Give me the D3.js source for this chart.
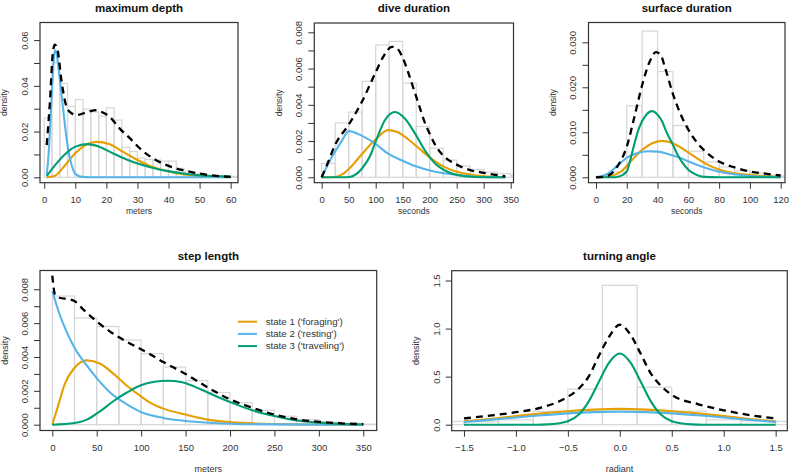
<!DOCTYPE html>
<html>
<head>
<meta charset="utf-8">
<script src="https://cdn.jsdelivr.net/npm/d3@7"></script>
<style>
  body { margin: 0; background: #fff; }
  svg { display: block; font-family: "Liberation Sans", Arial, Helvetica, sans-serif; }
</style>
</head>
<body>
<svg id="chart" width="793" height="476"></svg>
<script>
// state colours and legend text
const stateColors = ["#E69F00", "#56B4E9", "#009E73"];
const legendLabels = ["state 1 ('foraging')", "state 2 ('resting')", "state 3 ('traveling')"];

// ---- maximum depth ----
const depthBreaks = [0, 2.5, 5, 7.5, 10, 12.5, 15, 17.5, 20, 22.5, 25, 27.5, 30, 32.5, 35, 37.5, 40, 42.5, 45, 47.5, 50, 52.5, 55, 57.5, 60, 62.5];
const depthHist = [0.026, 0.050, 0.041, 0.031, 0.034, 0.0298, 0.0286, 0.0267, 0.0304, 0.025, 0.0131, 0.0113, 0.0084, 0.0078, 0.0076, 0.0071, 0.0071, 0.0039, 0.0024, 0.0018, 0.0012, 0.0009, 0.0006, 0.0005, 0.0004];
const depthState1 = [[0.8, 0], [3.5, 0.0007], [6.7, 0.0053], [9.9, 0.0104], [13.1, 0.014], [16.8, 0.0155], [21.1, 0.0145], [25.4, 0.0111], [29.7, 0.0078], [34, 0.005], [39.4, 0.0028], [44.7, 0.0013], [50, 0.0006], [60, 0.0001]];
const depthState2 = [[0.8, 0.001], [1.5, 0.012], [2, 0.025], [2.5, 0.038], [3, 0.050], [3.4, 0.0555], [4, 0.054], [4.5, 0.049], [5, 0.043], [6, 0.031], [7, 0.019], [8, 0.010], [9, 0.0045], [10, 0.0015], [12, 0.0002], [15, 0], [60, 0]];
const depthState3 = [[0.8, 0.0005], [3.5, 0.0053], [6.7, 0.0101], [9.9, 0.0133], [13.7, 0.0145], [17.9, 0.0133], [22.2, 0.0104], [26.5, 0.0078], [30.8, 0.0057], [35.1, 0.0041], [39.4, 0.0028], [44.7, 0.0017], [50, 0.0009], [60, 0.0003]];
const depthTotal = [[0.8, 0.0141], [1.9, 0.0345], [2.7, 0.0534], [3.4, 0.058], [4.2, 0.0563], [5.6, 0.0417], [7.2, 0.0308], [8.8, 0.028], [10.4, 0.0272], [13.6, 0.0284], [16.8, 0.0294], [17.9, 0.0289], [21.1, 0.0264], [24.3, 0.0213], [27.6, 0.017], [30.8, 0.0126], [35.1, 0.0082], [39.4, 0.0053], [44.7, 0.0031], [50.1, 0.0016], [55.4, 0.0006], [60, 0.0002]];
const depthXTicks = [0, 10, 20, 30, 40, 50, 60];
const depthYTicks = [0, 0.01, 0.02, 0.03, 0.04, 0.05, 0.06];
const depthYLabels = ["0.00", "", "0.02", "", "0.04", "", "0.06"];

// ---- dive duration ----
const diveBreaks = [0, 25, 50, 75, 100, 125, 150, 175, 200, 225, 250, 275, 300, 325, 350, 375];
const diveHist = [0.00077, 0.0030, 0.0036, 0.0053, 0.0073, 0.0075, 0.0052, 0.0028, 0.0016, 0.00095, 0.00062, 0.00042, 0.00029, 0.0002, 0.0001];
const diveState1 = [[0, 0], [25, 0.00002], [40, 0.0002], [55, 0.0006], [75, 0.0013], [100, 0.0021], [123, 0.0026], [140, 0.0025], [160, 0.0021], [180, 0.0016], [200, 0.0011], [225, 0.0006], [250, 0.0003], [275, 0.00015], [300, 0.00006], [340, 0.00001]];
const diveState2 = [[0, 0], [18.5, 0.0011], [37, 0.0020], [50, 0.00255], [74, 0.0023], [99, 0.00186], [123, 0.0013], [148, 0.00094], [173, 0.00062], [204, 0.00035], [241, 0.00017], [296, 0.00002], [340, 0]];
const diveState3 = [[0, 0], [40, 0], [52, 0.00002], [75, 0.0005], [90, 0.0012], [99, 0.0019], [117, 0.00315], [136, 0.0036], [154, 0.00324], [173, 0.00241], [191, 0.00149], [210, 0.00076], [234, 0.00029], [265, 0.00006], [300, 0], [340, 0]];
const diveTotal = [[0, 0], [10, 0.0007], [25, 0.0018], [50, 0.0029], [75, 0.0042], [100, 0.0058], [115, 0.0067], [130, 0.0072], [140, 0.0071], [150, 0.0066], [160, 0.0058], [170, 0.0049], [180, 0.0040], [190, 0.0031], [200, 0.0024], [210, 0.0018], [225, 0.0012], [250, 0.0007], [275, 0.0004], [300, 0.00025], [340, 0.00005]];
const diveXTicks = [0, 50, 100, 150, 200, 250, 300, 350];
const diveYTicks = [0, 0.001, 0.002, 0.003, 0.004, 0.005, 0.006, 0.007, 0.008];
const diveYLabels = ["0.000", "", "0.002", "", "0.004", "", "0.006", "", "0.008"];

// ---- surface duration ----
const surfaceBreaks = [0, 10, 20, 30, 40, 50, 60, 70, 80, 90, 100, 110, 120, 130];
const surfaceHist = [0.0002, 0.0012, 0.0159, 0.0325, 0.0235, 0.0115, 0.0058, 0.0034, 0.0023, 0.0014, 0.001, 0.0005, 0.0003];
const surfaceState1 = [[0, 0], [5.8, 0.00005], [11, 0.0004], [16.7, 0.0014], [23.2, 0.0038], [29.7, 0.006], [36.2, 0.0075], [42.7, 0.0081], [49.2, 0.0077], [55.7, 0.0065], [62.2, 0.005], [70.8, 0.0031], [79.5, 0.0018], [88.2, 0.001], [101.2, 0.0005], [118.5, 0.0001]];
const surfaceState2 = [[0, 0], [7.7, 0.0008], [14.2, 0.0027], [20.7, 0.0045], [27.2, 0.0054], [33.7, 0.0058], [40.2, 0.0057], [46.7, 0.0052], [53.2, 0.0045], [61.8, 0.0033], [70.4, 0.0022], [83.4, 0.001], [100.7, 0.0003], [119.5, 0]];
const surfaceState3 = [[0, 0], [10, 0], [15, 0.0002], [20, 0.0013], [22, 0.0035], [24, 0.0062], [28, 0.011], [32, 0.0136], [36.5, 0.0147], [40, 0.0139], [43, 0.0124], [46, 0.0099], [50, 0.0072], [53, 0.005], [56, 0.0033], [60, 0.0017], [65, 0.0006], [70, 0.0001], [80, 0], [120, 0]];
const surfaceTotal = [[0, 0], [5, 0.0001], [10, 0.0008], [15, 0.003], [20, 0.0068], [25, 0.0135], [30, 0.0205], [35, 0.0258], [39, 0.0278], [42, 0.0272], [45, 0.0242], [50, 0.0185], [55, 0.014], [60, 0.0106], [65, 0.008], [70, 0.0061], [80, 0.0035], [90, 0.0022], [100, 0.0013], [110, 0.0008], [120, 0.0004]];
const surfaceXTicks = [0, 20, 40, 60, 80, 100, 120];
const surfaceYTicks = [0, 0.005, 0.01, 0.015, 0.02, 0.025, 0.03];
const surfaceYLabels = ["0.000", "", "0.010", "", "0.020", "", "0.030"];

// ---- step length ----
const stepBreaks = [0, 25, 50, 75, 100, 125, 150, 175, 200, 225, 250, 275, 300, 325, 350, 375];
const stepHist = [0.0076, 0.0063, 0.0058, 0.0050, 0.0042, 0.0034, 0.0026, 0.0019, 0.0013, 0.00085, 0.0005, 0.0003, 0.00015, 0.00008, 0.00003];
const stepState1 = [[0, 0], [7, 0.0012], [14, 0.0024], [24, 0.0033], [39, 0.0038], [54, 0.0036], [69, 0.003], [84, 0.0023], [99, 0.0017], [110, 0.0013], [125, 0.00095], [150, 0.0006], [175, 0.0003], [200, 0.00015], [250, 0.00004], [300, 0.00001], [350, 0]];
const stepState2 = [[0, 0.0079], [7, 0.0067], [16, 0.0055], [25.5, 0.0045], [38.7, 0.0035], [50, 0.00275], [65, 0.0019], [84, 0.0012], [102, 0.0007], [125, 0.0004], [150, 0.00022], [200, 0.00006], [250, 0.00002], [350, 0]];
const stepState3 = [[0, 0], [25, 0.0001], [39, 0.0003], [54, 0.0008], [69, 0.0014], [84, 0.0019], [99, 0.00232], [115, 0.00254], [130, 0.0026], [145, 0.00252], [160, 0.00225], [175, 0.0019], [200, 0.00134], [225, 0.00085], [250, 0.00051], [275, 0.00025], [300, 0.00012], [325, 0.00005], [350, 0.00002]];
const stepTotal = [[0, 0.0088], [3, 0.0077], [8, 0.0075], [20, 0.0074], [25, 0.0073], [35, 0.0068], [50, 0.0061], [65, 0.0055], [84, 0.0049], [102, 0.0044], [125, 0.0037], [150, 0.003], [175, 0.0022], [200, 0.0015], [225, 0.001], [250, 0.0006], [275, 0.00032], [300, 0.00017], [325, 0.00008], [350, 0.00003]];
const stepXTicks = [0, 50, 100, 150, 200, 250, 300, 350];
const stepYTicks = [0, 0.001, 0.002, 0.003, 0.004, 0.005, 0.006, 0.007, 0.008];
const stepYLabels = ["0.000", "", "0.002", "", "0.004", "", "0.006", "", "0.008"];

// ---- turning angle ----
const turnBreaks = [-1.833, -1.5, -1.167, -0.833, -0.5, -0.167, 0.167, 0.5, 0.833, 1.167, 1.5, 1.833];
const turnHist = [0.035, 0.03, 0.05, 0.14, 0.37, 1.45, 0.39, 0.14, 0.05, 0.04, 0.035];
const turnState1 = [[-1.5, 0.035], [-1.25, 0.06], [-1, 0.09], [-0.75, 0.118], [-0.5, 0.14], [-0.25, 0.157], [0, 0.165], [0.25, 0.157], [0.5, 0.14], [0.75, 0.118], [1, 0.09], [1.25, 0.06], [1.5, 0.035]];
const turnState2 = [[-1.5, 0.028], [-1.25, 0.05], [-1, 0.075], [-0.75, 0.098], [-0.5, 0.118], [-0.25, 0.131], [0, 0.136], [0.25, 0.131], [0.5, 0.118], [0.75, 0.098], [1, 0.075], [1.25, 0.05], [1.5, 0.028]];
const turnState3 = [[-1.5, 0], [-0.8, 0], [-0.7, 0.003], [-0.6, 0.012], [-0.5, 0.035], [-0.4, 0.1], [-0.3, 0.24], [-0.2, 0.45], [-0.1, 0.65], [0, 0.74], [0.1, 0.65], [0.2, 0.45], [0.3, 0.24], [0.4, 0.1], [0.5, 0.035], [0.6, 0.012], [0.7, 0.003], [0.8, 0], [1.5, 0]];
const turnTotal = [[-1.5, 0.065], [-1.25, 0.095], [-1, 0.13], [-0.75, 0.18], [-0.5, 0.29], [-0.4, 0.37], [-0.3, 0.5], [-0.2, 0.72], [-0.1, 0.92], [0, 1.04], [0.1, 0.94], [0.2, 0.74], [0.3, 0.53], [0.4, 0.4], [0.5, 0.31], [0.75, 0.215], [1, 0.15], [1.25, 0.1], [1.5, 0.065]];
const turnXTicks = [-1.5, -1, -0.5, 0, 0.5, 1, 1.5];
const turnXLabels = ["\u22121.5", "\u22121.0", "\u22120.5", "0.0", "0.5", "1.0", "1.5"];
const turnYTicks = [0, 0.5, 1, 1.5];
const turnYLabels = ["0.0", "0.5", "1.0", "1.5"];

const svg = d3.select("#chart");

// panel layout (box in pixels, limits in data units at the box edges)
const panels = [
  { id: "depth", title: "maximum depth", xlab: "meters", xlabY: 211, labSize: 8.5,
    box: [40, 22.5, 238, 182.7], xlim: [-1.36, 62.36], ylim: [-0.00236, 0.0677],
    breaks: depthBreaks, hist: depthHist, states: [depthState1, depthState2, depthState3], total: depthTotal,
    xTicks: depthXTicks, xLabels: null, yTicks: depthYTicks, yLabels: depthYLabels },
  { id: "dive", title: "dive duration", xlab: "seconds", xlabY: 211, labSize: 8.5,
    box: [314.3, 23, 513.5, 182.7], xlim: [-13.7, 355.2], ylim: [-0.000298, 0.008513],
    breaks: diveBreaks, hist: diveHist, states: [diveState1, diveState2, diveState3], total: diveTotal,
    xTicks: diveXTicks, xLabels: null, yTicks: diveYTicks, yLabels: diveYLabels },
  { id: "surface", title: "surface duration", xlab: "seconds", xlabY: 211, labSize: 8.5,
    box: [588.5, 22.5, 785, 182.7], xlim: [-4.87, 122.8], ylim: [-0.0012, 0.0344],
    breaks: surfaceBreaks, hist: surfaceHist, states: [surfaceState1, surfaceState2, surfaceState3], total: surfaceTotal,
    xTicks: surfaceXTicks, xLabels: null, yTicks: surfaceYTicks, yLabels: surfaceYLabels },
  { id: "step", title: "step length", xlab: "meters", xlabY: 469, labSize: 9,
    box: [40, 270.5, 376.7, 430.5], xlim: [-13.84, 365.1], ylim: [-0.000343, 0.009108],
    breaks: stepBreaks, hist: stepHist, states: [stepState1, stepState2, stepState3], total: stepTotal,
    xTicks: stepXTicks, xLabels: null, yTicks: stepYTicks, yLabels: stepYLabels, legend: true },
  { id: "turn", title: "turning angle", xlab: "radiant", xlabY: 469, labSize: 9,
    box: [451.7, 270.7, 787.3, 430.7], xlim: [-1.618, 1.612], ylim: [-0.0624, 1.602],
    breaks: turnBreaks, hist: turnHist, states: [turnState1, turnState2, turnState3], total: turnTotal,
    xTicks: turnXTicks, xLabels: turnXLabels, yTicks: turnYTicks, yLabels: turnYLabels }
];

panels.forEach(drawPanel);

function drawPanel(p) {
  const [x0, y0, x1, y1] = p.box;
  const x = d3.scaleLinear().domain(p.xlim).range([x0, x1]);
  const y = d3.scaleLinear().domain(p.ylim).range([y1, y0]);
  const g = svg.append("g");

  // clip everything to the plot box
  g.append("clipPath").attr("id", "clip-" + p.id)
    .append("rect").attr("x", x0).attr("y", y0).attr("width", x1 - x0).attr("height", y1 - y0);
  const plot = g.append("g").attr("clip-path", `url(#clip-${p.id})`);

  // histogram bars
  plot.selectAll("rect.bar")
    .data(p.hist)
    .enter()
    .append("rect")
    .attr("class", "bar")
    .attr("x", (d, i) => x(p.breaks[i]))
    .attr("width", (d, i) => x(p.breaks[i + 1]) - x(p.breaks[i]))
    .attr("y", d => y(d))
    .attr("height", d => y(0) - y(d))
    .attr("fill", "none")
    .attr("stroke", "#d6d6d6")
    .attr("stroke-width", 1.2);

  const line = d3.line()
    .x(d => x(d[0]))
    .y(d => y(d[1]))
    .curve(d3.curveMonotoneX);

  // state densities
  p.states.forEach((s, i) => {
    plot.append("path")
      .attr("d", line(s))
      .attr("fill", "none")
      .attr("stroke", stateColors[i])
      .attr("stroke-width", 2.1);
  });

  // total density, dashed
  plot.append("path")
    .attr("d", line(p.total))
    .attr("fill", "none")
    .attr("stroke", "#000")
    .attr("stroke-width", 2.3)
    .attr("stroke-dasharray", "7,5");

  // box
  g.append("rect")
    .attr("x", x0).attr("y", y0)
    .attr("width", x1 - x0).attr("height", y1 - y0)
    .attr("fill", "none")
    .attr("stroke", "#333")
    .attr("stroke-width", 1.2);

  // x axis
  const xAxis = d3.axisBottom(x)
    .tickValues(p.xTicks)
    .tickSize(6)
    .tickPadding(8)
    .tickFormat((d, i) => p.xLabels ? p.xLabels[i] : String(d));
  const gx = g.append("g").attr("transform", `translate(0,${y1})`).call(xAxis);
  gx.select(".domain").remove();
  gx.selectAll("line").attr("stroke", "#333");
  gx.selectAll("text")
    .attr("font-size", 9.5)
    .attr("font-family", "Liberation Sans, Arial, sans-serif")
    .attr("fill", "#333");

  // y axis with rotated labels
  const yAxis = d3.axisLeft(y)
    .tickValues(p.yTicks)
    .tickSize(6)
    .tickFormat((d, i) => p.yLabels[i]);
  const gy = g.append("g").attr("transform", `translate(${x0},0)`).call(yAxis);
  gy.select(".domain").remove();
  gy.selectAll("line").attr("stroke", "#333");
  gy.selectAll("text")
    .attr("x", null)
    .attr("dy", "0.35em")
    .attr("transform", "translate(-15.5,0) rotate(-90)")
    .attr("text-anchor", "middle")
    .attr("font-size", 9.5)
    .attr("font-family", "Liberation Sans, Arial, sans-serif")
    .attr("fill", "#333");

  // title and axis labels
  g.append("text")
    .attr("x", (x0 + x1) / 2)
    .attr("y", y0 - 11)
    .attr("text-anchor", "middle")
    .attr("font-weight", "bold")
    .attr("font-size", 11.5)
    .attr("fill", "#111")
    .text(p.title);

  g.append("text")
    .attr("x", (x0 + x1) / 2)
    .attr("y", p.xlabY + 3)
    .attr("text-anchor", "middle")
    .attr("font-size", p.labSize)
    .attr("fill", "#333")
    .text(p.xlab);

  g.append("text")
    .attr("transform", `translate(${x0 - 35.5},${(y0 + y1) / 2}) rotate(-90)`)
    .attr("dy", "0.35em")
    .attr("text-anchor", "middle")
    .attr("font-size", p.labSize)
    .attr("fill", "#333")
    .text("density");

  if (p.legend) {
    const lg = g.append("g");
    legendLabels.forEach((label, i) => {
      const ly = 321.7 + i * 12.2;
      lg.append("line")
        .attr("x1", 238).attr("x2", 257)
        .attr("y1", ly).attr("y2", ly)
        .attr("stroke", stateColors[i])
        .attr("stroke-width", 2);
      lg.append("text")
        .attr("x", 265.7)
        .attr("y", ly)
        .attr("dy", "0.35em")
        .attr("font-size", 9.7)
        .attr("fill", "#333")
        .text(label);
    });
  }
}
</script>
</body>
</html>
